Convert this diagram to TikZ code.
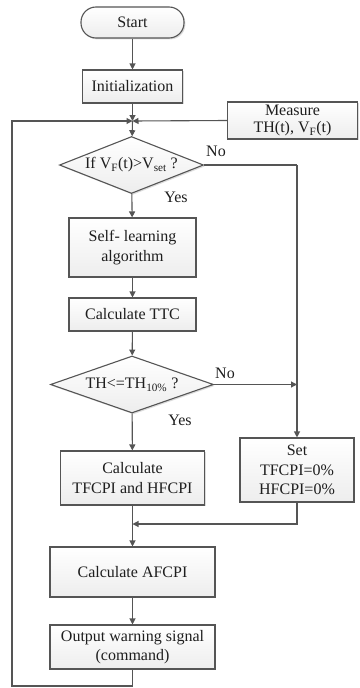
\documentclass[tikz,border=0pt]{standalone}
\usepackage{fontspec}
\setmainfont{Liberation Serif}
\usetikzlibrary{shapes.geometric,arrows.meta,shadows}
\definecolor{ln}{HTML}{555555}
\definecolor{tx}{HTML}{1E1E1E}
\begin{document}
\begin{tikzpicture}[x=1pt,y=-1pt,
  every node/.style={text=tx,font=\fontsize{16}{19.5}\selectfont},
  base/.style={draw=ln,line width=1.1pt,top color=white,bottom color=gray!14,
    drop shadow={shadow xshift=1.4pt,shadow yshift=-1.4pt,fill=gray!60,opacity=0.45},
    inner sep=1pt,align=center},
  stepbox/.style={base,rectangle},
  term/.style={base,rectangle,rounded corners=15pt},
  dia/.style={base,diamond,aspect=2.7,inner sep=0pt},
  arr/.style={draw=ln,line width=1.1pt,-{Triangle[length=6pt,width=6pt]}},
  con/.style={draw=ln,line width=1.1pt},
  lab/.style={inner sep=0pt}]
\useasboundingbox (0,0) rectangle (359,688);

\node[term,minimum width=103pt,minimum height=31pt] (start) at (132.5,22.5) {Start};
\node[stepbox,minimum width=100pt,minimum height=33pt] (init) at (132.5,86.5) {Initialization};
\coordinate (j1) at (132.5,121);
\node[stepbox,minimum width=130pt,minimum height=37pt,anchor=west,font=\fontsize{16}{17}\selectfont] (meas) at (227,120.5) {Measure\\TH(t), V\textsubscript{F}(t)};
\node[dia,minimum width=144pt,minimum height=57pt] (d1) at (131.5,165) {If V\textsubscript{F}(t)>V\textsubscript{set} ?};
\node[stepbox,minimum width=127pt,minimum height=59pt] (self) at (132.5,247.5) {Self- learning\\algorithm};
\node[stepbox,minimum width=127pt,minimum height=33pt] (ttc) at (132.5,314.5) {Calculate TTC};
\node[dia,minimum width=163pt,minimum height=57pt] (d2) at (132,384.5) {TH<=TH\textsubscript{10\%} ?};
\node[stepbox,minimum width=144pt,minimum height=54pt] (tf) at (132.5,478) {Calculate\\TFCPI and HFCPI};
\node[stepbox,minimum width=114pt,minimum height=64pt] (set) at (297,470) {Set\\TFCPI=0\%\\HFCPI=0\%};
\coordinate (m) at (132.5,524);
\node[stepbox,minimum width=165pt,minimum height=50pt] (af) at (132.5,572) {Calculate AFCPI};
\node[stepbox,minimum width=165pt,minimum height=44pt,font=\fontsize{16}{18.5}\selectfont] (out) at (132.5,647) {Output warning signal\\(command)};

\coordinate (r1) at (297,165);
\coordinate (r2) at (297,384.5);
\coordinate (lb) at (12,686);
\coordinate (lt) at (12,121);

\node[lab] (no1) at (216,151) {No};
\node[lab] (yes1) at (176,197) {Yes};
\node[lab] (no2) at (225,373) {No};
\node[lab] (yes2) at (180,420) {Yes};

\draw[arr] (start) -- (init);
\draw[arr] (init) -- (j1);
\draw[arr] (meas.west) -- (j1);
\draw[arr] (j1) -- (d1);
\draw[arr] (d1) -- (self);
\draw[arr] (self) -- (ttc);
\draw[arr] (ttc) -- (d2);
\draw[arr] (d2) -- (tf);
\draw[con] (d1.east) -- (r1);
\draw[arr] (r1) -- (set.north);
\draw[arr] (d2.east) -- (r2);
\draw[con] (tf) -- (m);
\draw[arr] (set.south) |- (m);
\draw[arr] (m) -- (af);
\draw[arr] (af) -- (out);
\draw[arr] (out.south) -- (out.south |- lb) -- (lb) -- (lt) -- (j1);
\end{tikzpicture}
\end{document}
